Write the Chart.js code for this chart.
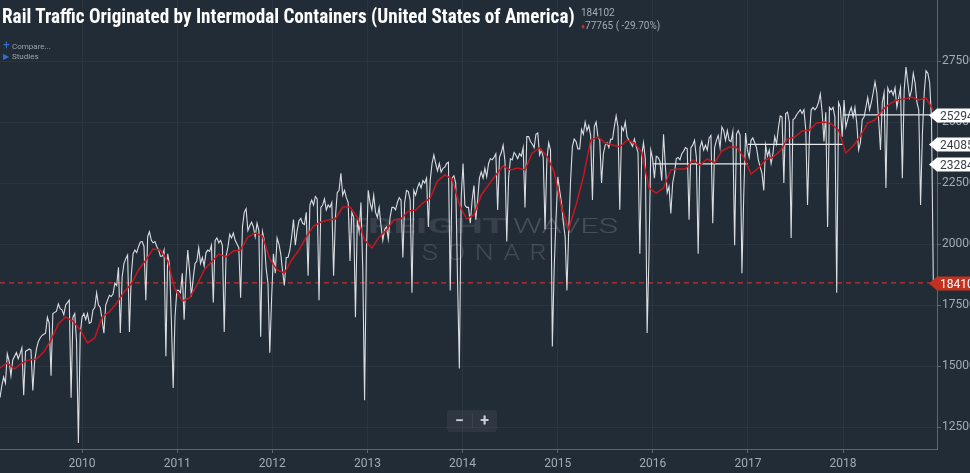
<!DOCTYPE html>
<html>
<head>
<meta charset="utf-8">
<title>Rail Traffic Originated by Intermodal Containers</title>
<script src="https://cdn.jsdelivr.net/npm/chart.js@4.4.1/dist/chart.umd.min.js"></script>
<style>
  body { margin: 0; background: #222c37; overflow: hidden; }
  #wrap { position: relative; width: 970px; height: 473px; font-family: Roboto, "Noto Sans", sans-serif; }
  #chart { position: absolute; left: 0; top: 0; }
  .title { position: absolute; left: 2px; top: 4px; color: #fff; white-space: nowrap;
           font: bold 20px "Liberation Sans Narrow", "Roboto Condensed", sans-serif;
           transform: scaleX(0.958); transform-origin: 0 0; }
  .last { position: absolute; left: 581px; top: 6px; color: #a3abb5; font-size: 10px; line-height: 13px; white-space: nowrap; }
  .last .dn { color: #c4321f; font-size: 8px; }
  .menu { position: absolute; left: 3px; color: #9aa3ad; font-size: 8px; white-space: nowrap; }
  .menu b { color: #2f6fd6; font-weight: normal; display: inline-block; width: 9px; }
  .zoom { position: absolute; left: 447px; top: 410px; width: 50px; height: 22px; border-radius: 3px;
          background: rgba(255,255,255,0.05); color: #c9ced4; font: bold 16px Roboto, sans-serif; }
  .zoom span { position: absolute; top: 0; width: 25px; text-align: center; line-height: 21px; }
  .zoom i { position: absolute; left: 25px; top: 4px; width: 1px; height: 14px; background: rgba(255,255,255,0.08); }
</style>
</head>
<body>
<div id="wrap">
  <canvas id="chart" width="970" height="473"></canvas>
  <div class="title">Rail Traffic Originated by Intermodal Containers (United States of America)</div>
  <div class="last">184102<br><span class="dn">&#9830;</span>77765 ( -29.70%)</div>
  <div class="menu" style="top:38px"><b style="font-size:12px">+</b>Compare...</div>
  <div class="menu" style="top:52px"><b>&#9654;</b>Studies</div>
  <div class="zoom"><span style="left:0">&minus;</span><i></i><span style="left:25px">+</span></div>
</div>
<script>
// weekly carloads, first reading in the week of 20 Feb 2009
const firstWeek = 2009.137;   // as decimal year
const weekLen = 7 / 365.25;

const carloads = [
  13700,14200,14550,14300,15500,15200,14600,15250,15400,15550,
  15300,15500,15750,13800,15600,15650,15700,15650,14000,15200,
  15700,16000,16150,16250,16300,16350,17000,16750,14600,17150,
  17200,17250,17550,17350,17300,17100,17500,17600,17700,13700,
  17000,17150,16000,11850,16300,17000,17150,16900,17150,16750,
  16800,17300,17400,18000,17500,17400,16900,16350,
  17500,17700,17900,17850,17950,18400,18300,19050,16350,18650,
  19200,19400,19550,16400,18700,19600,19750,19650,19900,20080,
  20100,19900,17700,20300,20500,20150,20050,20100,19900,19750,
  19500,19500,19750,15400,19600,19150,16900,14100,17000,18100,
  18100,18000,18800,16900,18600,19750,18900,17850,18600,19200,
  19300,19850,19200,19450,19100,19650,19750,
  19700,19950,17600,20150,20250,20050,20150,19950,16400,19500,
  19850,20400,20250,20450,20150,20000,19850,17800,20700,21300,
  21450,20550,20750,20900,20700,20300,20850,20550,16200,20500,
  20150,19000,18400,15550,17800,19600,18800,20250,20000,19600,
  18900,18300,19450,19450,19750,20300,21000,19950,20550,20950,
  21050,20850,20800,21300,18700,21600,21800,
  21600,21950,21850,17700,21500,21600,21850,21400,21600,21500,
  21700,18700,21100,22100,22200,22900,22000,22200,21900,21700,
  19300,21300,21100,17000,21000,20500,21700,19000,13600,19700,
  22200,21700,21400,22000,21300,21100,21500,20750,20150,20600,
  20700,20200,21100,21500,21500,21400,21700,21900,21800,19450,
  21700,22200,22150,21800,18000,22200,22000,
  22300,22500,22300,22600,22500,22700,20700,22600,23300,23650,
  23300,23000,23300,22950,23100,23150,23300,23350,18100,22700,
  22800,22500,18500,14900,21900,23300,21600,21500,21500,20850,
  21800,22400,21000,21800,22700,22950,22700,23100,22750,23300,
  23500,23450,23550,23700,21400,23550,23750,24050,23400,20100,
  22700,23500,23450,23750,23650,23500,23700,
  23600,23950,21500,24400,24400,24200,24100,23950,24500,24550,
  23650,23850,23550,20600,23450,24150,23850,15800,19000,21000,
  22750,22200,21700,20900,20300,18100,20600,22600,24000,24300,
  24200,23900,23900,24700,24500,25000,24650,24850,24450,21800,
  24800,25000,24400,24250,22500,23700,24050,24150,23950,24300,
  24300,24800,25250,24800,21400,24800,24650,
  25000,24400,24250,24150,24000,24300,24000,23750,19600,23600,
  24150,23500,16350,19500,23850,23500,22700,23600,23550,23400,
  22600,24500,23200,22100,22350,21250,22500,22900,23500,23550,
  23450,23700,23800,23950,23900,21000,23950,24050,24250,23550,
  19600,23950,24200,23850,24050,23850,24350,24450,20850,23950,
  24250,24450,23950,24800,24650,24250,24650,
  24250,24200,24600,19950,24500,24650,24450,18800,22000,24550,
  23850,23550,24250,24350,24150,23950,23450,23150,22900,22200,
  24050,23600,23850,23300,23700,24400,24100,24750,25250,25200,
  22500,25350,25400,25000,20250,25100,25150,25300,25400,25500,
  25350,25500,24700,21600,24400,25500,25600,25500,25600,25800,
  26150,25400,24200,25400,20700,25600,25500,
  25600,25200,18000,25800,25600,24400,25900,24800,25100,25400,
  25600,25200,25600,24950,23850,24150,25100,25200,25600,26000,
  25500,25800,26200,26650,26200,25100,23850,25800,26200,22300,
  26400,26200,26300,26100,26400,25600,26000,26400,22700,26300,
  27250,26600,26000,26300,27000,26600,25800,25500,21600,24500,
  26200,27100,27000,26600,25100,18410
];

// moving average study, one reading every 4 weeks
const movingAvg = [
  14920,15125,14880,15125,15250,15290,15575,16070,16720,17010,
  16845,16480,15945,16150,17010,17215,17585,18035,18360,18935,
  19345,19795,19755,19305,18160,17665,17790,18320,18935,19265,
  19590,19470,19715,19755,20290,20450,20330,19385,18935,18810,
  19345,19755,20290,20740,20900,20985,21025,21515,21515,21105,
  20165,19835,20290,20575,20985,21025,21355,21395,21680,21885,
  22580,22830,22665,21600,21025,21190,22010,22420,22830,23200,
  23035,23115,23035,23730,23935,23605,22950,21515,20615,21600,
  22745,24260,24385,24140,24060,23975,24260,24140,23770,22295,
  22090,22295,23035,23075,23075,23445,23240,23485,23320,23810,
  23975,23975,23565,22870,23115,23445,23565,23810,24305,24385,
  24630,24670,24960,25000,24920,24670,23730,24015,24425,24960,
  25080,25490,25740,25900,25940,26025,25900,25980,25490
];
const avgStep = 4;

// yearly averages drawn as flat lines
const avgYears = [2016, 2017, 2018];
const avgValues = [23284, 24085, 25294];

const lastValue = 18410;
const lastLabel = '184102';
const yTicks = [12500, 15000, 17500, 20000, 22500, 25000, 27500];
const yearTicks = [2010, 2011, 2012, 2013, 2014, 2015, 2016, 2017, 2018];

const xMin = firstWeek;
const xMax = 2018.988;

const weeklyPoints = carloads.map((v, i) => ({ x: firstWeek + i * weekLen, y: v }));
const avgPoints = movingAvg.map((v, k) => ({ x: firstWeek + k * avgStep * weekLen, y: v }));

const yearLines = avgYears.map((yr, i) => ({
  label: 'Average ' + yr,
  data: [{ x: yr, y: avgValues[i] }, { x: Math.min(yr + 1, xMax), y: avgValues[i] }],
  borderColor: '#e6e9ec',
  borderWidth: 1.3,
  pointRadius: 0,
  order: 1
}));

// the last value, as a dashed flat line across the chart
const lastLine = {
  label: 'Last',
  data: [{ x: xMin, y: lastValue }, { x: xMax, y: lastValue }],
  borderColor: '#c3302c',
  borderWidth: 1.2,
  borderDash: [5, 4],
  pointRadius: 0,
  order: 3
};

// draw a word stretched horizontally to a given width
function stretchText(ctx, text, x, y, width) {
  const w = ctx.measureText(text).width;
  ctx.save();
  ctx.translate(x, y);
  ctx.scale(width / w, 1);
  ctx.fillText(text, 0, 0);
  ctx.restore();
}

// watermark behind the lines
const watermark = {
  id: 'watermark',
  beforeDatasetsDraw(chart) {
    const ctx = chart.ctx;
    ctx.save();
    ctx.textBaseline = 'alphabetic';
    ctx.font = 'bold 21px Roboto, sans-serif';
    ctx.fillStyle = 'rgba(255,255,255,0.10)';
    stretchText(ctx, 'FREIGHT', 346, 233, 161);
    ctx.font = '300 21px Roboto, sans-serif';
    ctx.fillStyle = 'rgba(255,255,255,0.17)';
    stretchText(ctx, 'WAVES', 513, 233, 105);
    ctx.font = '300 22px Roboto, sans-serif';
    ctx.fillStyle = 'rgba(255,255,255,0.15)';
    ctx.letterSpacing = '8px';
    stretchText(ctx, 'SONAR', 422, 260, 134);
    ctx.restore();
  }
};

// price tags on the right axis
const priceTags = {
  id: 'priceTags',
  afterDraw(chart) {
    const ctx = chart.ctx;
    const area = chart.chartArea;
    const y = chart.scales.y;
    const tag = (val, text, bg, fg) => {
      const py = Math.round(y.getPixelForValue(val)) + 0.5;
      ctx.beginPath();
      ctx.moveTo(area.right - 8, py);
      ctx.lineTo(area.right, py - 7);
      ctx.lineTo(chart.width, py - 7);
      ctx.lineTo(chart.width, py + 7);
      ctx.lineTo(area.right, py + 7);
      ctx.closePath();
      ctx.fillStyle = bg;
      ctx.fill();
      ctx.fillStyle = fg;
      ctx.font = '12px Roboto, sans-serif';
      ctx.textBaseline = 'middle';
      ctx.fillText(text, area.right + 3, py + 1);
    };
    ctx.save();
    avgValues.forEach(v => tag(v, String(v), '#ffffff', '#3a3f46'));
    tag(lastValue, lastLabel, '#c4321f', '#ffffff');
    ctx.restore();
  }
};

const noPadding = s => { s.paddingTop = 0; s.paddingBottom = 0; s.paddingLeft = 0; s.paddingRight = 0; };

new Chart(document.getElementById('chart'), {
  type: 'line',
  data: {
    datasets: [
      {
        label: 'Moving average',
        data: avgPoints,
        borderColor: '#c8161d',
        borderWidth: 1.5,
        pointRadius: 0,
        order: 0
      },
      ...yearLines,
      {
        label: 'Intermodal containers',
        data: weeklyPoints,
        borderColor: '#d9dde2',
        borderWidth: 1.1,
        pointRadius: 0,
        order: 2
      },
      lastLine
    ]
  },
  options: {
    responsive: false,
    animation: false,
    layout: { padding: 0 },
    plugins: { legend: { display: false }, tooltip: { enabled: false } },
    scales: {
      x: {
        type: 'linear',
        position: 'bottom',
        min: xMin,
        max: xMax,
        afterBuildTicks: s => { s.ticks = yearTicks.map(v => ({ value: v })); },
        afterFit: s => { s.height = 24; noPadding(s); },
        ticks: {
          color: '#a3abb5',
          font: { size: 12, family: 'Roboto' },
          padding: 4,
          maxRotation: 0,
          callback: v => String(v)
        },
        grid: { color: 'rgba(255,255,255,0.045)', tickColor: '#5d6671', tickLength: 4 },
        border: { color: '#5d6671' }
      },
      y: {
        position: 'right',
        min: 11600,
        max: 30000,
        afterBuildTicks: s => { s.ticks = yTicks.map(v => ({ value: v })); },
        afterFit: s => { s.width = 33; noPadding(s); },
        ticks: {
          color: '#a3abb5',
          font: { size: 12, family: 'Roboto' },
          padding: 1,
          callback: v => String(v)
        },
        grid: { color: 'rgba(255,255,255,0.045)', tickColor: '#5d6671', tickLength: 4 },
        border: { color: '#5d6671' }
      }
    }
  },
  plugins: [watermark, priceTags]
});
</script>
</body>
</html>
